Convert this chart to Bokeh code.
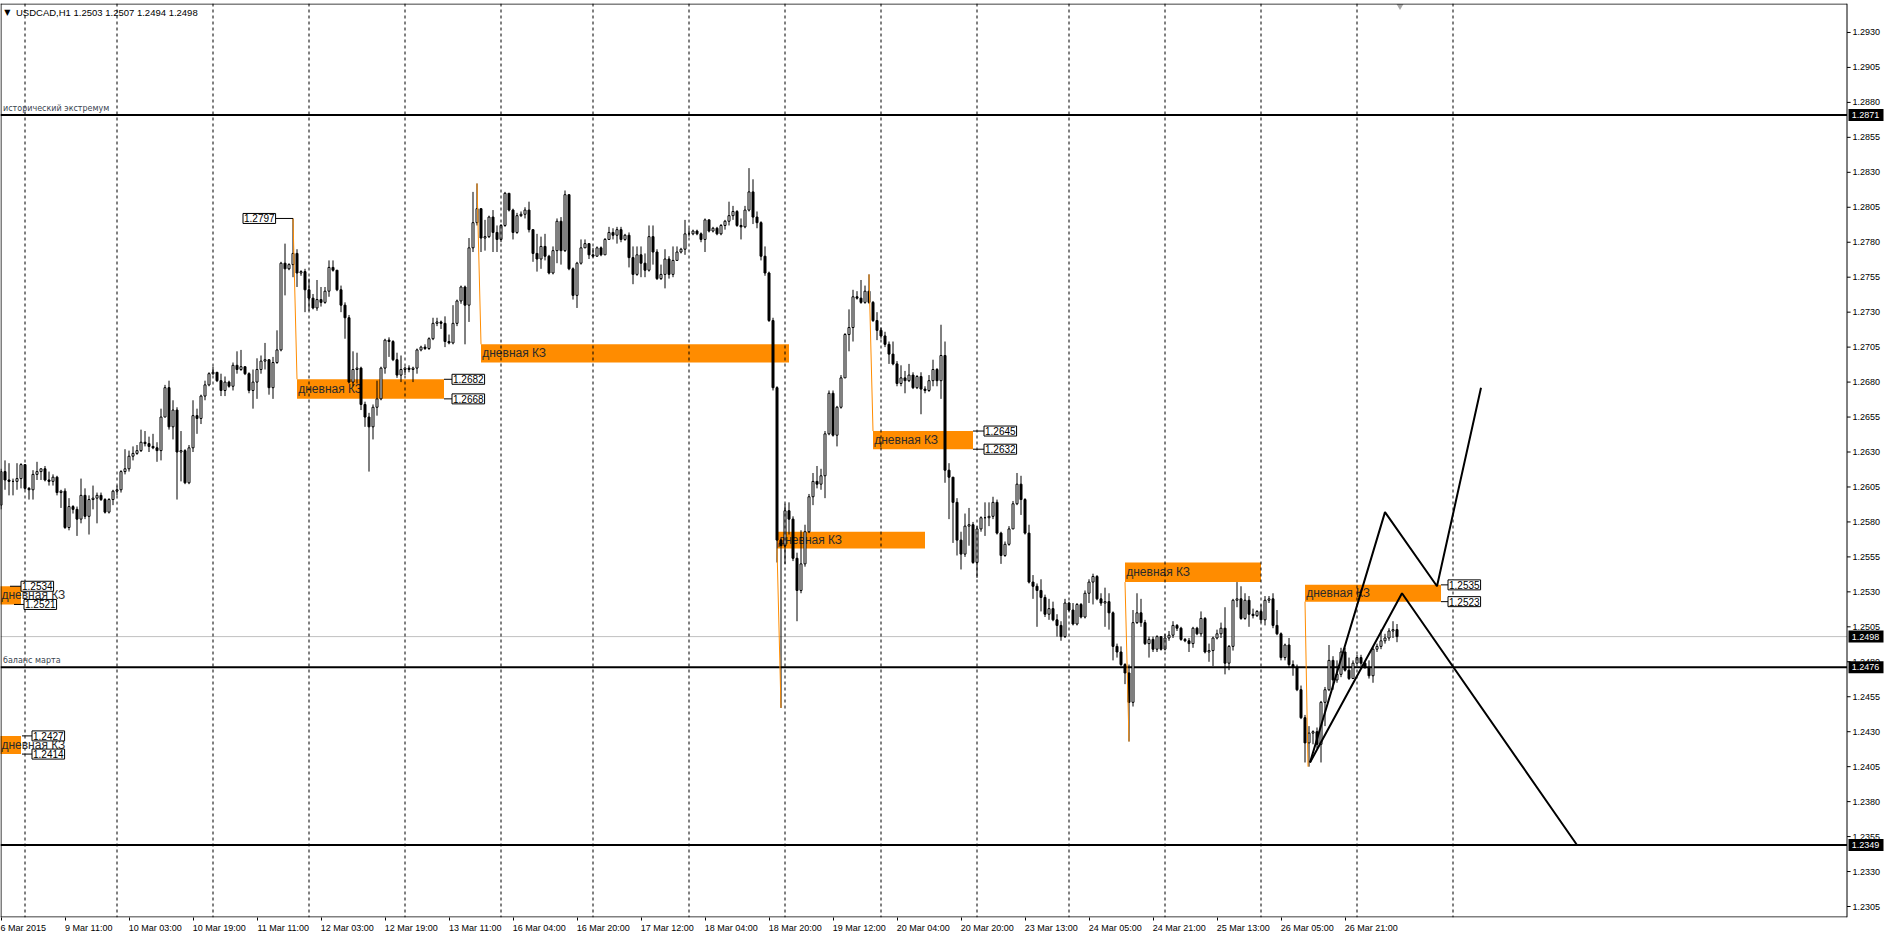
from bokeh.plotting import figure
from bokeh.models import ColumnDataSource, Range1d, FixedTicker, Span, Label
from bokeh.embed import file_html
from bokeh.resources import INLINE
from bokeh.core.properties import value

# ---------------- data (USDCAD, H1) ----------------
first_open = 1.2592
closes = [
    1.2616, 1.2610, 1.2609, 1.2609, 1.2611, 1.2621, 1.2604, 1.2603, 1.2614, 1.2616,
    1.2618, 1.2610, 1.2609, 1.2612, 1.2601, 1.2602, 1.2576, 1.2591, 1.2589, 1.2582,
    1.2599, 1.2584, 1.2596, 1.2597, 1.2599, 1.2596, 1.2587, 1.2596, 1.2602, 1.2603,
    1.2616, 1.2618, 1.2627, 1.2629, 1.2631, 1.2637, 1.2636, 1.2634, 1.2633, 1.2631,
    1.2655, 1.2676, 1.2648, 1.2660, 1.2630, 1.2631, 1.2608, 1.2633, 1.2656, 1.2654,
    1.2670, 1.2678, 1.2686, 1.2687, 1.2681, 1.2674, 1.2680, 1.2677, 1.2692, 1.2689,
    1.2691, 1.2686, 1.2674, 1.2680, 1.2689, 1.2695, 1.2696, 1.2676, 1.2694, 1.2703,
    1.2765, 1.2761, 1.2764, 1.2772, 1.2758, 1.2759, 1.2746, 1.2740, 1.2733, 1.2739,
    1.2737, 1.2745, 1.2762, 1.2760, 1.2746, 1.2735, 1.2726, 1.2680, 1.2689, 1.2690,
    1.2664, 1.2655, 1.2648, 1.2662, 1.2668, 1.2690, 1.2710, 1.2709, 1.2696, 1.2685,
    1.2689, 1.2690, 1.2689, 1.2690, 1.2703, 1.2705, 1.2704, 1.2711, 1.2722, 1.2723,
    1.2722, 1.2709, 1.2708, 1.2722, 1.2738, 1.2748, 1.2735, 1.2776, 1.2794, 1.2804,
    1.2783, 1.2784, 1.2798, 1.2787, 1.2782, 1.2792, 1.2815, 1.2803, 1.2787, 1.2799,
    1.2800, 1.2803, 1.2789, 1.2772, 1.2768, 1.2777, 1.2770, 1.2758, 1.2774, 1.2795,
    1.2774, 1.2814, 1.2761, 1.2742, 1.2765, 1.2776, 1.2779, 1.2771, 1.2770, 1.2776,
    1.2771, 1.2782, 1.2787, 1.2785, 1.2789, 1.2782, 1.2785, 1.2769, 1.2757, 1.2771,
    1.2765, 1.2760, 1.2784, 1.2773, 1.2754, 1.2757, 1.2768, 1.2757, 1.2767, 1.2773,
    1.2775, 1.2786, 1.2786, 1.2788, 1.2786, 1.2782, 1.2796, 1.2788, 1.2790, 1.2786,
    1.2792, 1.2795, 1.2799, 1.2802, 1.2792, 1.2791, 1.2803, 1.2816, 1.2798, 1.2794,
    1.2770, 1.2758, 1.2724, 1.2676, 1.2567, 1.2563, 1.2588, 1.2582, 1.2554, 1.2531,
    1.2550, 1.2573, 1.2598, 1.2609, 1.2607, 1.2613, 1.2643, 1.2672, 1.2642, 1.2662,
    1.2683, 1.2714, 1.2719, 1.2741, 1.2740, 1.2737, 1.2745, 1.2737, 1.2724, 1.2717,
    1.2713, 1.2707, 1.2700, 1.2693, 1.2679, 1.2683, 1.2681, 1.2685, 1.2676, 1.2684,
    1.2675, 1.2674, 1.2681, 1.2689, 1.2681, 1.2699, 1.2617, 1.2612, 1.2594, 1.2567,
    1.2557, 1.2577, 1.2578, 1.2551, 1.2575, 1.2583, 1.2583, 1.2584, 1.2594, 1.2572,
    1.2556, 1.2564, 1.2575, 1.2593, 1.2607, 1.2596, 1.2572, 1.2537, 1.2534, 1.2531,
    1.2526, 1.2514, 1.2518, 1.2510, 1.2506, 1.2498, 1.2522, 1.2517, 1.2507, 1.2521,
    1.2512, 1.2529, 1.2537, 1.2541, 1.2525, 1.2522, 1.2523, 1.2515, 1.2491, 1.2487,
    1.2478, 1.2472, 1.2451, 1.2508, 1.2515, 1.2508, 1.2493, 1.2496, 1.2489, 1.2498,
    1.2489, 1.2497, 1.2499, 1.2506, 1.2504, 1.2496, 1.2495, 1.2493, 1.2504, 1.2500,
    1.2511, 1.2487, 1.2488, 1.2497, 1.2500, 1.2504, 1.2479, 1.2491, 1.2524, 1.2525,
    1.2511, 1.2524, 1.2514, 1.2513, 1.2516, 1.2510, 1.2524, 1.2525, 1.2506, 1.2500,
    1.2483, 1.2492, 1.2478, 1.2476, 1.2460, 1.2440, 1.2422, 1.2429, 1.2430, 1.2421,
    1.2451, 1.2460, 1.2481, 1.2467, 1.2471, 1.2487, 1.2474, 1.2468, 1.2479, 1.2483,
    1.2479, 1.2476, 1.2470, 1.2489, 1.2491, 1.2495, 1.2497, 1.2502, 1.2503, 1.2498,
]
highs = [
    1.2618, 1.2624, 1.2622, 1.2611, 1.2622, 1.2622, 1.2620, 1.2605, 1.2617, 1.2623,
    1.2618, 1.2620, 1.2616, 1.2614, 1.2613, 1.2603, 1.2604, 1.2597, 1.2592, 1.2591,
    1.2611, 1.2604, 1.2599, 1.2606, 1.2601, 1.2601, 1.2597, 1.2597, 1.2603, 1.2606,
    1.2617, 1.2632, 1.2631, 1.2634, 1.2635, 1.2646, 1.2645, 1.2641, 1.2643, 1.2637,
    1.2661, 1.2678, 1.2681, 1.2667, 1.2662, 1.2645, 1.2632, 1.2635, 1.2667, 1.2661,
    1.2671, 1.2681, 1.2687, 1.2691, 1.2687, 1.2686, 1.2684, 1.2681, 1.2694, 1.2702,
    1.2703, 1.2691, 1.2687, 1.2689, 1.2697, 1.2699, 1.2708, 1.2696, 1.2698, 1.2717,
    1.2766, 1.2779, 1.2765, 1.2797, 1.2775, 1.2760, 1.2761, 1.2754, 1.2743, 1.2753,
    1.2748, 1.2748, 1.2767, 1.2767, 1.2760, 1.2749, 1.2737, 1.2728, 1.2702, 1.2701,
    1.2691, 1.2666, 1.2658, 1.2664, 1.2681, 1.2691, 1.2711, 1.2712, 1.2710, 1.2701,
    1.2699, 1.2691, 1.2692, 1.2691, 1.2704, 1.2706, 1.2707, 1.2712, 1.2726, 1.2726,
    1.2724, 1.2727, 1.2714, 1.2735, 1.2739, 1.2749, 1.2749, 1.2783, 1.2816, 1.2822,
    1.2804, 1.2796, 1.2799, 1.2803, 1.2792, 1.2793, 1.2816, 1.2815, 1.2804, 1.2801,
    1.2802, 1.2805, 1.2809, 1.2789, 1.2786, 1.2784, 1.2786, 1.2771, 1.2777, 1.2797,
    1.2798, 1.2817, 1.2814, 1.2762, 1.2766, 1.2782, 1.2782, 1.2779, 1.2776, 1.2777,
    1.2777, 1.2783, 1.2791, 1.2790, 1.2791, 1.2791, 1.2786, 1.2787, 1.2777, 1.2777,
    1.2777, 1.2772, 1.2792, 1.2792, 1.2775, 1.2764, 1.2775, 1.2770, 1.2777, 1.2777,
    1.2776, 1.2796, 1.2790, 1.2789, 1.2789, 1.2787, 1.2797, 1.2796, 1.2791, 1.2791,
    1.2793, 1.2796, 1.2809, 1.2806, 1.2803, 1.2797, 1.2806, 1.2833, 1.2825, 1.2802,
    1.2795, 1.2777, 1.2759, 1.2726, 1.2677, 1.2568, 1.2593, 1.2594, 1.2584, 1.2558,
    1.2574, 1.2578, 1.2600, 1.2615, 1.2620, 1.2618, 1.2645, 1.2674, 1.2674, 1.2663,
    1.2685, 1.2715, 1.2732, 1.2746, 1.2745, 1.2753, 1.2749, 1.2757, 1.2738, 1.2730,
    1.2719, 1.2716, 1.2709, 1.2709, 1.2695, 1.2692, 1.2688, 1.2693, 1.2687, 1.2685,
    1.2687, 1.2677, 1.2685, 1.2696, 1.2690, 1.2721, 1.2709, 1.2622, 1.2612, 1.2597,
    1.2573, 1.2586, 1.2590, 1.2580, 1.2577, 1.2584, 1.2594, 1.2594, 1.2598, 1.2596,
    1.2573, 1.2566, 1.2577, 1.2595, 1.2615, 1.2613, 1.2597, 1.2578, 1.2542, 1.2536,
    1.2539, 1.2528, 1.2525, 1.2523, 1.2514, 1.2509, 1.2525, 1.2523, 1.2522, 1.2522,
    1.2522, 1.2531, 1.2539, 1.2543, 1.2542, 1.2529, 1.2533, 1.2529, 1.2516, 1.2493,
    1.2491, 1.2479, 1.2478, 1.2517, 1.2529, 1.2525, 1.2510, 1.2498, 1.2498, 1.2499,
    1.2498, 1.2500, 1.2502, 1.2509, 1.2507, 1.2505, 1.2497, 1.2497, 1.2505, 1.2505,
    1.2516, 1.2512, 1.2493, 1.2498, 1.2503, 1.2508, 1.2519, 1.2492, 1.2525, 1.2537,
    1.2534, 1.2529, 1.2527, 1.2518, 1.2517, 1.2521, 1.2527, 1.2527, 1.2529, 1.2517,
    1.2501, 1.2493, 1.2497, 1.2481, 1.2478, 1.2463, 1.2442, 1.2434, 1.2431, 1.2433,
    1.2452, 1.2462, 1.2492, 1.2484, 1.2481, 1.2490, 1.2490, 1.2483, 1.2481, 1.2485,
    1.2485, 1.2480, 1.2481, 1.2491, 1.2493, 1.2503, 1.2500, 1.2504, 1.2509, 1.2507,
]
lows = [
    1.2589, 1.2603, 1.2599, 1.2599, 1.2603, 1.2604, 1.2603, 1.2596, 1.2596, 1.2610,
    1.2610, 1.2609, 1.2606, 1.2606, 1.2599, 1.2590, 1.2575, 1.2574, 1.2586, 1.2570,
    1.2579, 1.2582, 1.2571, 1.2589, 1.2579, 1.2595, 1.2586, 1.2586, 1.2592, 1.2599,
    1.2601, 1.2614, 1.2616, 1.2624, 1.2628, 1.2630, 1.2634, 1.2630, 1.2632, 1.2623,
    1.2624, 1.2655, 1.2646, 1.2639, 1.2596, 1.2609, 1.2607, 1.2607, 1.2630, 1.2643,
    1.2650, 1.2667, 1.2677, 1.2685, 1.2680, 1.2670, 1.2670, 1.2676, 1.2674, 1.2686,
    1.2688, 1.2685, 1.2672, 1.2661, 1.2668, 1.2686, 1.2689, 1.2671, 1.2668, 1.2693,
    1.2702, 1.2742, 1.2760, 1.2755, 1.2748, 1.2756, 1.2730, 1.2731, 1.2732, 1.2731,
    1.2734, 1.2736, 1.2741, 1.2759, 1.2745, 1.2730, 1.2711, 1.2679, 1.2677, 1.2679,
    1.2660, 1.2648, 1.2616, 1.2639, 1.2656, 1.2667, 1.2686, 1.2698, 1.2695, 1.2683,
    1.2680, 1.2685, 1.2687, 1.2680, 1.2686, 1.2702, 1.2703, 1.2703, 1.2710, 1.2720,
    1.2718, 1.2705, 1.2707, 1.2707, 1.2720, 1.2736, 1.2707, 1.2723, 1.2773, 1.2792,
    1.2773, 1.2774, 1.2783, 1.2773, 1.2773, 1.2780, 1.2791, 1.2802, 1.2782, 1.2786,
    1.2798, 1.2797, 1.2787, 1.2766, 1.2759, 1.2761, 1.2767, 1.2757, 1.2757, 1.2765,
    1.2764, 1.2773, 1.2760, 1.2739, 1.2733, 1.2764, 1.2776, 1.2768, 1.2769, 1.2770,
    1.2770, 1.2772, 1.2782, 1.2782, 1.2779, 1.2780, 1.2781, 1.2762, 1.2750, 1.2756,
    1.2755, 1.2755, 1.2759, 1.2764, 1.2753, 1.2753, 1.2747, 1.2754, 1.2755, 1.2767,
    1.2772, 1.2771, 1.2784, 1.2785, 1.2785, 1.2780, 1.2773, 1.2787, 1.2787, 1.2785,
    1.2785, 1.2789, 1.2792, 1.2796, 1.2791, 1.2782, 1.2790, 1.2802, 1.2793, 1.2790,
    1.2767, 1.2756, 1.2723, 1.2674, 1.2551, 1.2447, 1.2550, 1.2571, 1.2552, 1.2509,
    1.2529, 1.2548, 1.2572, 1.2592, 1.2604, 1.2603, 1.2597, 1.2642, 1.2641, 1.2634,
    1.2661, 1.2683, 1.2702, 1.2709, 1.2739, 1.2736, 1.2736, 1.2736, 1.2723, 1.2710,
    1.2711, 1.2705, 1.2693, 1.2692, 1.2677, 1.2677, 1.2672, 1.2680, 1.2675, 1.2675,
    1.2657, 1.2672, 1.2673, 1.2677, 1.2677, 1.2668, 1.2608, 1.2582, 1.2565, 1.2556,
    1.2546, 1.2555, 1.2563, 1.2550, 1.2540, 1.2573, 1.2570, 1.2577, 1.2582, 1.2571,
    1.2550, 1.2555, 1.2563, 1.2575, 1.2592, 1.2585, 1.2571, 1.2536, 1.2525, 1.2505,
    1.2516, 1.2512, 1.2510, 1.2509, 1.2498, 1.2495, 1.2497, 1.2516, 1.2506, 1.2506,
    1.2511, 1.2511, 1.2522, 1.2521, 1.2524, 1.2520, 1.2505, 1.2503, 1.2481, 1.2483,
    1.2477, 1.2464, 1.2423, 1.2448, 1.2507, 1.2505, 1.2492, 1.2483, 1.2487, 1.2487,
    1.2488, 1.2488, 1.2495, 1.2497, 1.2502, 1.2495, 1.2494, 1.2487, 1.2490, 1.2499,
    1.2498, 1.2486, 1.2480, 1.2477, 1.2496, 1.2497, 1.2471, 1.2474, 1.2488, 1.2519,
    1.2510, 1.2510, 1.2505, 1.2511, 1.2512, 1.2508, 1.2506, 1.2522, 1.2504, 1.2499,
    1.2481, 1.2481, 1.2476, 1.2470, 1.2459, 1.2439, 1.2408, 1.2405, 1.2421, 1.2418,
    1.2408, 1.2434, 1.2459, 1.2460, 1.2465, 1.2469, 1.2473, 1.2467, 1.2468, 1.2479,
    1.2477, 1.2475, 1.2468, 1.2465, 1.2487, 1.2489, 1.2493, 1.2495, 1.2497, 1.2494,
]

# time axis: one label every 16 bars
tick_bars = [0, 16, 32, 48, 64, 80, 96, 112, 128, 144, 160, 176, 192, 208, 224, 240, 256, 272, 288, 304, 320, 336]
tick_labels = ["6 Mar 2015", "9 Mar 11:00", "10 Mar 03:00", "10 Mar 19:00", "11 Mar 11:00",
               "12 Mar 03:00", "12 Mar 19:00", "13 Mar 11:00", "16 Mar 04:00", "16 Mar 20:00",
               "17 Mar 12:00", "18 Mar 04:00", "18 Mar 20:00", "19 Mar 12:00", "20 Mar 04:00",
               "20 Mar 20:00", "23 Mar 13:00", "24 Mar 05:00", "24 Mar 21:00", "25 Mar 13:00",
               "26 Mar 05:00", "26 Mar 21:00"]
day_separators = [6, 29, 53, 77, 101, 125, 148, 172, 196, 220, 244, 267, 291, 315, 339, 363]

price_ticks = [1.2305, 1.2330, 1.2355, 1.2380, 1.2405, 1.2430, 1.2455, 1.2480, 1.2505,
               1.2530, 1.2555, 1.2580, 1.2605, 1.2630, 1.2655, 1.2680, 1.2705, 1.2730,
               1.2755, 1.2780, 1.2805, 1.2830, 1.2855, 1.2880, 1.2905, 1.2930]

header = "USDCAD,H1  1.2503 1.2507 1.2494 1.2498"

# horizontal levels
level_prices = [1.2871, 1.2476, 1.2349]
level_notes = ["исторический экстремум", "баланс марта", ""]
bid_price = 1.2498

# daily zones ("дневная КЗ")
zone_k0 = [-5.0, -5.0, 74.0, 120.0, 194.0, 218.0, 281.0, 326.0]
zone_k1 = [5.0, 5.0, 110.75, 197.0, 231.0, 243.0, 315.0, 360.0]
zone_lo = [1.2521, 1.2414, 1.2668, 1.2694, 1.2561, 1.2632, 1.2537, 1.2523]
zone_hi = [1.2534, 1.2427, 1.2682, 1.2707, 1.2573, 1.2645, 1.2551, 1.2535]
zone_text_k = [0.1, 0.1, 74.3, 120.3, 194.3, 218.3, 281.3, 326.3]
zone_text = "дневная КЗ"

# thin orange links from extreme to zone
link_k0 = [73.0, 119.0, 195.0, 217.0, 282.0, 326.75]
link_p0 = [1.2797, 1.2822, 1.2447, 1.2757, 1.2423, 1.2405]
link_k1 = [74.0, 120.0, 194.0, 218.0, 281.0, 326.0]
link_p1 = [1.2682, 1.2707, 1.2561, 1.2645, 1.2537, 1.2523]

# price labels
plab_price = [1.2534, 1.2521, 1.2427, 1.2414, 1.2797, 1.2682, 1.2668, 1.2645, 1.2632, 1.2535, 1.2523]
plab_k0 = [2.25, 3.25, 5.25, 5.25, 73.0, 110.75, 110.75, 243.0, 243.0, 360.0, 360.0]
plab_k1 = [5.0, 5.75, 7.75, 7.75, 60.5, 112.75, 112.75, 245.75, 245.75, 361.75, 361.75]

# hand-drawn black lines
trend_a_k = [327.25, 346.0, 359.0, 370.0]
trend_a_p = [1.2408, 1.2587, 1.2534, 1.2676]
trend_b_k = [327.25, 350.25, 394.0]
trend_b_p = [1.2408, 1.2529, 1.2349]

# chart-shift marker (last bar)
shift_k = 349.75

# ---------------- layout constants ----------------
PX = 4.0                      # pixels per bar
PRICE_PX = 14000.0            # pixels per price unit
W, H = 1888, 935
TOP, BOTTOM = 3, 17
FRAME_H = H - TOP - BOTTOM
X0 = -0.125
X1 = X0 + W / PX
Y1 = 1.2930 + (32 - TOP) / PRICE_PX
Y0 = Y1 - FRAME_H / PRICE_PX
K_SCALE = 461.5               # bar position of the price-scale border
FONT = "Liberation Sans"

bars = list(range(len(closes)))
opens = [first_open] + closes[:-1]
src = ColumnDataSource(dict(
    bar=bars, open=opens, high=highs, low=lows, close=closes,
    top=[max(o, c) for o, c in zip(opens, closes)],
    bottom=[min(o, c) for o, c in zip(opens, closes)],
    fill=["white" if c >= o else "black" for o, c in zip(opens, closes)],
))

p = figure(width=W, height=H, title=None,
           x_range=Range1d(X0, X1), y_range=Range1d(Y0, Y1),
           output_backend="svg", toolbar_location=None, y_axis_location=None,
           min_border_left=0, min_border_top=TOP, min_border_right=0, min_border_bottom=BOTTOM,
           background_fill_color="white", border_fill_color="white",
           outline_line_color=None)
p.xgrid.visible = False
p.ygrid.visible = False

# time axis (labels start at their tick, as in the terminal): centred labels are
# given a leading blank run as wide as the text itself; the first label is
# already pushed inside the canvas by the axis, so it stays as it is
ADV = {"M": 0.833, "a": 0.556, "r": 0.333, " ": 0.278, ":": 0.278}
def _start_at_tick(s):
    w = sum(ADV.get(c, 0.556) for c in s)
    return "\u00a0" * int(round(w / 0.278)) + s

overrides = {}
for i, (b, t) in enumerate(zip(tick_bars, tick_labels)):
    overrides[b] = t if i == 0 else _start_at_tick(t)

p.xaxis.ticker = FixedTicker(ticks=tick_bars)
p.xaxis.major_label_overrides = overrides
p.xaxis.major_label_text_font = FONT
p.xaxis.major_label_text_font_size = "9px"
p.xaxis.major_label_text_color = "black"
p.xaxis.major_tick_in = 0
p.xaxis.major_tick_out = 3
p.xaxis.minor_tick_in = 0
p.xaxis.minor_tick_out = 0
p.xaxis.major_label_standoff = 2
p.xaxis.axis_line_color = None
p.xaxis.major_tick_line_color = "black"

# zones (background)
p.quad(left=zone_k0, right=zone_k1, bottom=zone_lo, top=zone_hi,
       fill_color="#FF8C00", line_color=None)
p.text(x=zone_text_k, y=[(a + b) / 2 for a, b in zip(zone_lo, zone_hi)],
       text=[zone_text] * len(zone_k0), text_font=value(FONT),
       text_font_size="12px", text_baseline="middle", text_align="left",
       text_color="#2a2a2a")

# day separators
for k in day_separators:
    p.add_layout(Span(location=k, dimension="height", line_color="black",
                      line_width=1, line_dash="3 3"))

# bid line and levels (stop at the price scale)
p.segment(x0=[X0], y0=[bid_price], x1=[K_SCALE], y1=[bid_price], line_color="#C0C0C0", line_width=1)
p.segment(x0=[X0] * 3, y0=level_prices, x1=[K_SCALE] * 3, y1=level_prices,
          line_color="black", line_width=2)

# candles
p.segment(x0="bar", y0="low", x1="bar", y1="high", source=src, line_color="black", line_width=1)
p.vbar(x="bar", width=0.5, top="top", bottom="bottom", source=src,
       fill_color="fill", line_color="black", line_width=1)

# orange links
p.segment(x0=link_k0, y0=link_p0, x1=link_k1, y1=link_p1, line_color="#FF8C00", line_width=1)

# trend lines
p.line(trend_a_k, trend_a_p, line_color="black", line_width=2)
p.line(trend_b_k, trend_b_p, line_color="black", line_width=2)

# price label connectors + labels
p.segment(x0=plab_k0, y0=plab_price, x1=plab_k1, y1=plab_price, line_color="black", line_width=1)
for pr, k1 in zip(plab_price, plab_k1):
    p.add_layout(Label(x=k1, y=pr, text=f"{pr:.4f}", text_align="left", text_baseline="middle",
                       text_font=FONT, text_font_size="10px", text_color="black",
                       background_fill_color="white", border_line_color="black",
                       border_line_width=1, padding=1))

# level notes
for lv, note in zip(level_prices, level_notes):
    if note:
        p.add_layout(Label(x=0.5, y=lv, y_offset=2, text=note, text_align="left",
                           text_baseline="bottom", text_font="DejaVu Sans",
                           text_font_size="8px", text_color="#3a4550"))

# header
p.add_layout(Label(x=1.6, y=1.29443, text="▼", text_align="center", text_baseline="middle",
                   text_font="DejaVu Sans", text_font_size="8px", text_color="black"))
p.add_layout(Label(x=3.75, y=1.29443, text=header, text_align="left", text_baseline="middle",
                   text_font=FONT, text_font_size="9.5px", text_color="black"))

# chart-shift marker
p.scatter(x=[shift_k], y=[Y1 - 2.5 / PRICE_PX], marker="inverted_triangle", size=7,
          fill_color="#A8A8A8", line_color=None)

# ---- chart border and price scale (right side) ----
edge = 0.5 / PRICE_PX
p.segment(x0=[X0, X0, 0.0, K_SCALE], y0=[Y1 - edge, Y0 + edge, Y0, Y0],
          x1=[K_SCALE, K_SCALE, 0.0, K_SCALE], y1=[Y1 - edge, Y0 + edge, Y1, Y1],
          line_color="black", line_width=1)
p.segment(x0=[K_SCALE] * len(price_ticks), y0=price_ticks,
          x1=[K_SCALE + 0.9] * len(price_ticks), y1=price_ticks, line_color="black", line_width=1)
p.text(x=[K_SCALE + 1.4] * len(price_ticks), y=price_ticks,
       text=[f"{t:.4f}" for t in price_ticks], text_font=value(FONT), text_font_size="9px",
       text_baseline="middle", text_align="left", text_color="black")
hl = level_prices + [bid_price]
p.rect(x=[K_SCALE + 4.75] * len(hl), y=hl, width=8.75, height=12, height_units="screen",
       fill_color="black", line_color=None)
p.text(x=[K_SCALE + 1.2] * len(hl), y=hl, text=[f"{v:.4f}" for v in hl],
       text_font=value(FONT), text_font_size="9px", text_baseline="middle",
       text_align="left", text_color="white")

open("out.html", "w").write(file_html(p, INLINE, title="USDCAD,H1"))
